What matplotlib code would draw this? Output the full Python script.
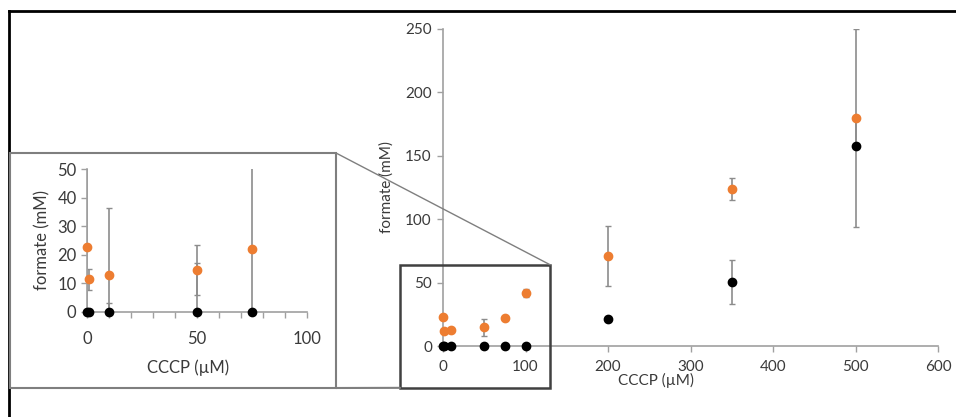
import matplotlib.pyplot as plt
from matplotlib.patches import Rectangle, ConnectionPatch
from matplotlib.lines import Line2D

plt.rcParams['font.family'] = ['Lato', 'DejaVu Sans']

# CCCP concentration (uM)
cccp = [0, 1, 10, 50, 75, 100, 200, 350, 500]
# formate (mM)
black_vals = [0, 0, 0, 0, 0, 0, 21, 50.5, 157.5]
orange_vals = [22.8, 11.5, 12.8, 14.6, 22, 42, 71, 124, 180]

# error bars, main chart (lower, upper)
black_err_lo = [0, 0, 0, 0, 0, 0, 0, 17, 64]
black_err_hi = [0, 0, 0, 0, 0, 0, 0, 17, 22.5]
orange_err_lo = [0, 0, 0, 7, 0, 3, 24, 8.5, 22.5]
orange_err_hi = [0, 0, 0, 7, 0, 3, 24, 8.5, 70]

# inset (zoom on 0-100 uM)
inset_x = [0, 1, 10, 50, 75]
inset_black = [0, 0, 0, 0, 0]
inset_orange = [22.8, 11.5, 12.8, 14.6, 22]
inset_black_err = [0, 0, 3.1, 17, 0]
inset_orange_err = [30, 3.7, 23.5, 8.7, 30]

ORANGE = '#ED7D31'
ERR = '#8c8c8c'
AXIS = '#a0a0a0'
TXT = '#3a3a3a'

W, H = 956, 417
fig = plt.figure(figsize=(W / 100, H / 100), dpi=100)


def px(x, y):
    return x / W, 1 - y / H


def style(ax, fs):
    for s in ['top', 'right']:
        ax.spines[s].set_visible(False)
    for s in ['left', 'bottom']:
        ax.spines[s].set_color(AXIS)
        ax.spines[s].set_linewidth(1.2)
    ax.tick_params(colors=AXIS, labelcolor=TXT, labelsize=fs, length=4, width=1)
    ax.set_facecolor('none')


# outer frame (only top and left visible)
fig.add_artist(Line2D([9 / W, 1], [1 - 11 / H] * 2, transform=fig.transFigure, color='black', lw=2))
fig.add_artist(Line2D([9 / W] * 2, [0, 1 - 11 / H], transform=fig.transFigure, color='black', lw=2))

# main axes
ax = fig.add_axes([443 / W, 1 - 346 / H, 495 / W, 317 / H])
style(ax, 11)
ax.set_xlim(0, 600)
ax.set_ylim(0, 250)
ax.set_xticks(range(0, 601, 100))
ax.set_yticks(range(0, 251, 50))
ax.tick_params(axis='x', pad=6)
ax.tick_params(axis='y', pad=4)
ax.errorbar(cccp, orange_vals, yerr=[orange_err_lo, orange_err_hi], fmt='none', ecolor=ERR,
            elinewidth=1.2, capsize=2)
ax.errorbar(cccp, black_vals, yerr=[black_err_lo, black_err_hi], fmt='none', ecolor=ERR,
            elinewidth=1.2, capsize=2)
ax.plot(cccp, black_vals, 'o', color='black', ms=6, clip_on=False, zorder=5)
ax.plot(cccp, orange_vals, 'o', color=ORANGE, ms=6, clip_on=False, zorder=6)
ax.set_xlabel('CCCP (µM)', fontsize=11, color=TXT)
ax.xaxis.set_label_coords(0.43, -0.085)
ax.set_ylabel('formate (mM)', fontsize=11, color=TXT, labelpad=8)

# zoom box in main chart
zoom_box = Rectangle((-52, -33), 182, 97, fill=False, edgecolor='#404040', lw=1.8,
                     clip_on=False, zorder=7)
ax.add_patch(zoom_box)

# inset background box
fig.add_artist(Rectangle(px(10, 388), 326 / W, 235 / H, transform=fig.transFigure,
                         facecolor='white', edgecolor='#7f7f7f', lw=1.5, zorder=2))

# connecting lines
fig.add_artist(ConnectionPatch(xyA=(130, 64), coordsA=ax.transData,
                               xyB=px(336, 153), coordsB=fig.transFigure,
                               color='#7f7f7f', lw=1, zorder=3))
fig.add_artist(ConnectionPatch(xyA=(-52, -33), coordsA=ax.transData,
                               xyB=px(336, 388), coordsB=fig.transFigure,
                               color='#7f7f7f', lw=1.5, zorder=3))

# inset axes
ins = fig.add_axes([87 / W, 1 - 312 / H, 220 / W, 143 / H], zorder=4)
style(ins, 12)
ins.set_xlim(0, 100)
ins.set_ylim(0, 50)
ins.set_xticks([0, 50, 100])
ins.set_xticks(range(0, 101, 10), minor=True)
ins.set_yticks(range(0, 51, 10))
ins.tick_params(axis='x', which='minor', colors=AXIS, length=4, width=1)
ins.tick_params(axis='x', pad=10)
ins.errorbar(inset_x, inset_orange, yerr=inset_orange_err, fmt='none', ecolor=ERR,
             elinewidth=1.2, capsize=2)
ins.errorbar(inset_x, inset_black, yerr=inset_black_err, fmt='none', ecolor=ERR,
             elinewidth=1.2, capsize=2)
ins.plot(inset_x, inset_black, 'o', color='black', ms=6, clip_on=False, zorder=5)
ins.plot(inset_x, inset_orange, 'o', color=ORANGE, ms=6, clip_on=False, zorder=6)
ins.set_xlabel('CCCP (µM)', fontsize=12, color=TXT, labelpad=12)
ins.xaxis.set_label_coords(0.46, -0.33)
ins.set_ylabel('formate (mM)', fontsize=12, color=TXT, labelpad=5)

fig.savefig('out.png', dpi=100, facecolor='white')
